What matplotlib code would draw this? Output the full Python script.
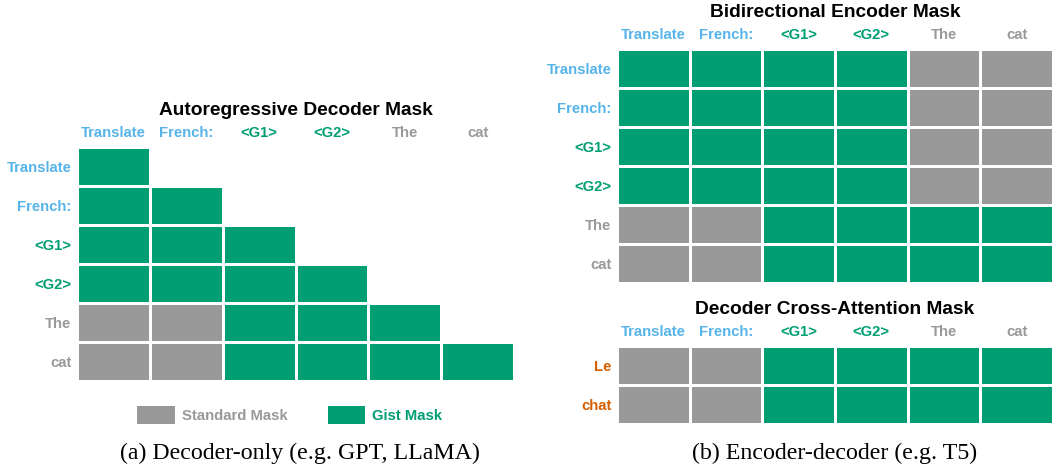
import numpy as np
import matplotlib.pyplot as plt
from matplotlib.colors import ListedColormap
from matplotlib.patches import Patch

plt.rcParams['font.family'] = ['Liberation Sans', 'DejaVu Sans']

# tokens and their colours
tokens = ["Translate", "French:", "<G1>", "<G2>", "The", "cat"]
token_colors = ["#56B4E9", "#56B4E9", "#009E73", "#009E73", "#999999", "#999999"]
dec_tokens = ["Le", "chat"]
dec_colors = ["#D55E00", "#D55E00"]

# 0 = no attention, 1 = standard mask, 2 = gist mask
decoder_mask = [
    [2, 0, 0, 0, 0, 0],
    [2, 2, 0, 0, 0, 0],
    [2, 2, 2, 0, 0, 0],
    [2, 2, 2, 2, 0, 0],
    [1, 1, 2, 2, 2, 0],
    [1, 1, 2, 2, 2, 2],
]
encoder_mask = [
    [2, 2, 2, 2, 1, 1],
    [2, 2, 2, 2, 1, 1],
    [2, 2, 2, 2, 1, 1],
    [2, 2, 2, 2, 1, 1],
    [1, 1, 2, 2, 2, 2],
    [1, 1, 2, 2, 2, 2],
]
cross_mask = [
    [1, 1, 2, 2, 2, 2],
    [1, 1, 2, 2, 2, 2],
]

GRAY = "#999999"
GREEN = "#009E73"
cmap = ListedColormap([GRAY, GREEN])
cmap.set_bad((1, 1, 1, 0))

W, H = 1053, 467
fig = plt.figure(figsize=(W / 100, H / 100), dpi=100)


def draw(rect, mask, col_lab, col_col, row_lab, row_col, title):
    ax = fig.add_axes(rect)
    m = np.ma.masked_equal(np.array(mask), 0)
    ax.pcolormesh(m, cmap=cmap, vmin=1, vmax=2, edgecolors="white", linewidth=0.8)
    nr, nc = m.shape
    ax.set_xlim(0, nc)
    ax.set_ylim(nr, 0)
    ax.set_xticks(np.arange(nc) + 0.5)
    ax.set_xticklabels(col_lab, fontsize=10.7, fontweight="bold")
    ax.set_yticks(np.arange(nr) + 0.5)
    ax.set_yticklabels(row_lab, fontsize=10.7, fontweight="bold")
    ax.xaxis.tick_top()
    ax.tick_params(axis="x", length=0, pad=5)
    ax.tick_params(axis="y", length=0, pad=4)
    for t, c in zip(ax.get_xticklabels(), col_col):
        t.set_color(c)
    for t, c in zip(ax.get_yticklabels(), row_col):
        t.set_color(c)
    for s in ax.spines.values():
        s.set_visible(False)
    ax.set_title(title, fontsize=13.8, fontweight="bold", pad=23)
    return ax


draw([77 / W, 1 - 381 / H, 437 / W, 234 / H], decoder_mask, tokens, token_colors,
     tokens, token_colors, "Autoregressive Decoder Mask")
draw([617 / W, 1 - 283 / H, 436 / W, 234 / H], encoder_mask, tokens, token_colors,
     tokens, token_colors, "Bidirectional Encoder Mask")
draw([617 / W, 1 - 424 / H, 436 / W, 78 / H], cross_mask, tokens, token_colors,
     dec_tokens, dec_colors, "Decoder Cross-Attention Mask")

handles = [Patch(facecolor=GRAY), Patch(facecolor=GREEN)]
fig.legend(handles, ["Standard Mask", "Gist Mask"], ncol=2, frameon=False,
           loc="center", bbox_to_anchor=(290 / W, 1 - 415 / H),
           handlelength=2.5, handleheight=1.45, handletextpad=0.5, columnspacing=2.7,
           labelcolor=[GRAY, GREEN], prop={"weight": "bold", "size": 10.7})

fig.text(300 / W, 1 - 453 / H, "(a) Decoder-only (e.g. GPT, LLaMA)", ha="center",
         va="center", fontsize=17.2, family="Liberation Serif")
fig.text(835 / W, 1 - 453 / H, "(b) Encoder-decoder (e.g. T5)", ha="center",
         va="center", fontsize=17.2, family="Liberation Serif")

fig.savefig("out.png", dpi=100)
